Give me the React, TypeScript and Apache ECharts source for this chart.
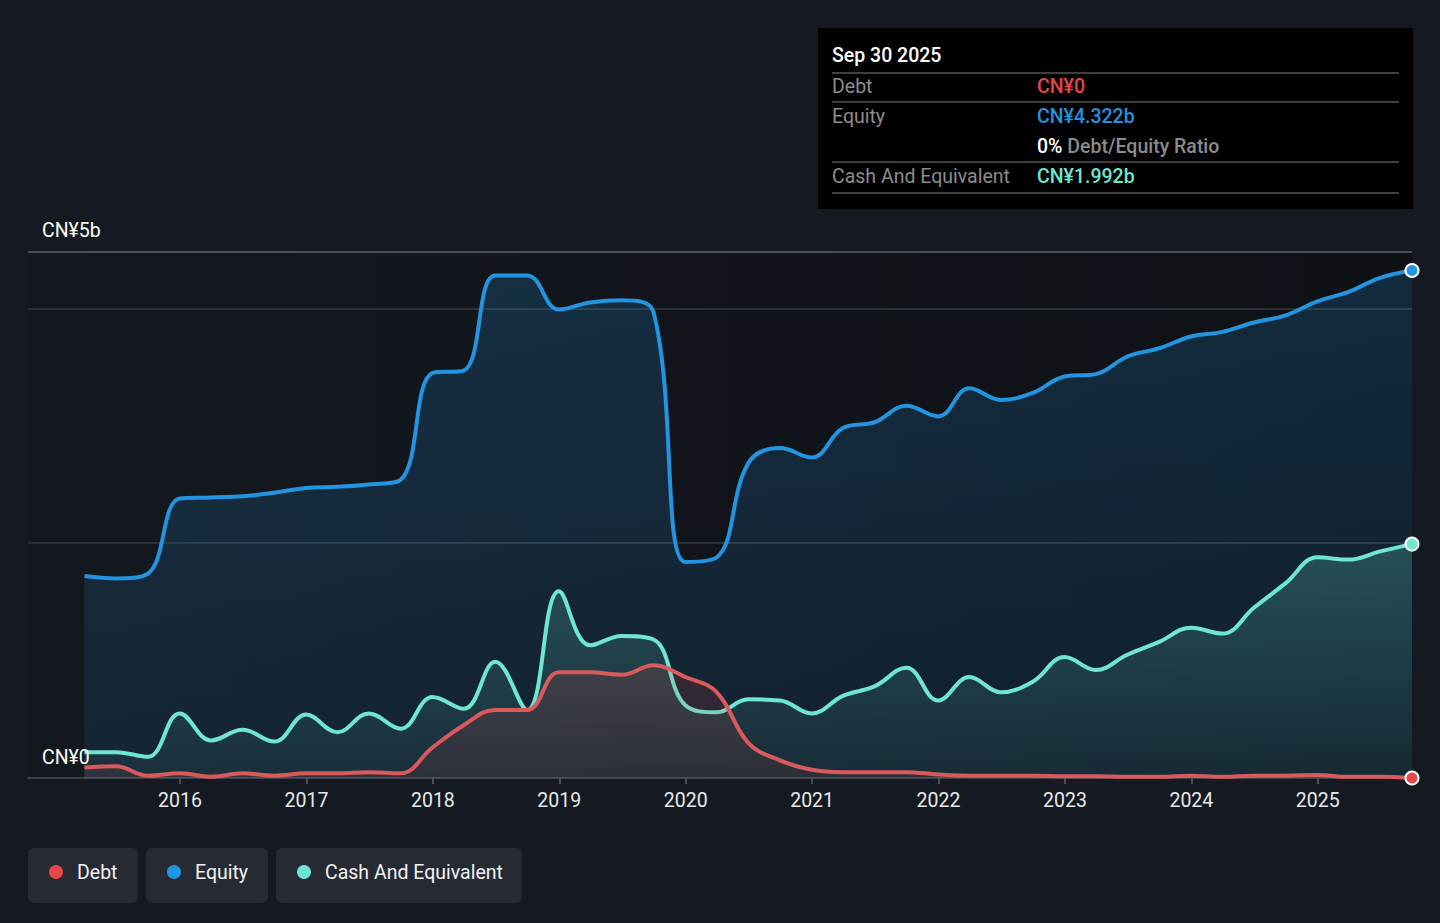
import React, { useEffect, useRef } from "react";
import * as echarts from "echarts";

const quarterDates = [
  "2015-03-31", "2015-06-30", "2015-09-30", "2015-12-31",
  "2016-03-31", "2016-06-30", "2016-09-30", "2016-12-31",
  "2017-03-31", "2017-06-30", "2017-09-30", "2017-12-31",
  "2018-03-31", "2018-06-30", "2018-09-30", "2018-12-31",
  "2019-03-31", "2019-06-30", "2019-09-30", "2019-12-31",
  "2020-03-31", "2020-06-30", "2020-09-30", "2020-12-31",
  "2021-03-31", "2021-06-30", "2021-09-30", "2021-12-31",
  "2022-03-31", "2022-06-30", "2022-09-30", "2022-12-31",
  "2023-03-31", "2023-06-30", "2023-09-30", "2023-12-31",
  "2024-03-31", "2024-06-30", "2024-09-30", "2024-12-31",
  "2025-03-31", "2025-06-30", "2025-09-30",
];

// values in CN¥ billions
const equityValues = [
  1.72, 1.7, 1.74, 2.38, 2.39, 2.4, 2.43, 2.47, 2.48, 2.5, 2.54, 3.45,
  3.47, 4.28, 4.28, 3.99, 4.05, 4.07, 3.97, 1.84, 1.88, 2.68, 2.81, 2.73,
  2.98, 3.03, 3.17, 3.08, 3.32, 3.22, 3.28, 3.42, 3.44, 3.59, 3.66, 3.76,
  3.8, 3.88, 3.94, 4.06, 4.14, 4.26, 4.322,
];
const cashValues = [
  0.22, 0.22, 0.18, 0.55, 0.32, 0.41, 0.31, 0.54, 0.39, 0.55, 0.42, 0.69,
  0.59, 0.99, 0.58, 1.59, 1.13, 1.21, 1.18, 0.62, 0.56, 0.67, 0.66, 0.55,
  0.7, 0.78, 0.94, 0.66, 0.86, 0.73, 0.82, 1.03, 0.92, 1.05, 1.16, 1.28,
  1.23, 1.45, 1.66, 1.88, 1.86, 1.93, 1.992,
];
const debtValues = [
  0.09, 0.1, 0.02, 0.04, 0.01, 0.04, 0.02, 0.04, 0.04, 0.05, 0.04, 0.26,
  0.45, 0.58, 0.58, 0.9, 0.9, 0.88, 0.96, 0.86, 0.73, 0.3, 0.15, 0.07,
  0.05, 0.05, 0.05, 0.03, 0.02, 0.02, 0.02, 0.015, 0.015, 0.01, 0.01, 0.02,
  0.01, 0.02, 0.02, 0.025, 0.01, 0.01, 0,
];
const yearTicks = [2016, 2017, 2018, 2019, 2020, 2021, 2022, 2023, 2024, 2025];
const axisStart = "2014-10-19";

const legendItems = ["Debt", "Equity", "Cash And Equivalent"];
const tooltipTitle = "Sep 30 2025";
const tooltipRows = [
  { label: "Debt", value: "CN¥0" },
  { label: "Equity", value: "CN¥4.322b" },
  { label: "", value: "0%", extra: " Debt/Equity Ratio" },
  { label: "Cash And Equivalent", value: "CN¥1.992b" },
];

const COLORS = { debt: "#e64646", equity: "#2394df", cash: "#6ee6d2" };
const LINE_COLORS = { debt: "#d9595d", equity: "#2394df", cash: "#6ee6d2" };
const FONT = "Roboto, 'Noto Sans', sans-serif";
const FS = 19.5;

function toDecimalYear(d: string): number {
  const [y, m, day] = d.split("-").map(Number);
  const start = Date.UTC(y, 0, 1);
  const end = Date.UTC(y + 1, 0, 1);
  const t = Date.UTC(y, m - 1, day);
  return y + (t - start) / (end - start);
}

export default function App() {
  const ref = useRef<HTMLDivElement>(null);

  useEffect(() => {
    if (!ref.current) return;
    const chart = echarts.init(ref.current, undefined, { renderer: "svg" });
    const xs = quarterDates.map(toDecimalYear);
    const last = xs.length - 1;
    const mk = (vals: number[]) => vals.map((v, i) => [xs[i], v]);

    const seriesDef = (
      name: string,
      vals: number[],
      key: "debt" | "equity" | "cash",
      areaTop: string,
      areaBottom: string,
      z: number
    ) => ({
      type: "line",
      name,
      data: mk(vals),
      smooth: 0.4,
      z,
      showSymbol: true,
      symbol: (_v: any, p: any) => (p.dataIndex === last ? "circle" : "none"),
      symbolSize: 13,
      itemStyle: { color: COLORS[key], borderColor: "#ffffff", borderWidth: 2 },
      lineStyle: { color: LINE_COLORS[key], width: 4 },
      areaStyle: {
        color: new echarts.graphic.LinearGradient(0, 0, 0, 1, [
          { offset: 0, color: areaTop },
          { offset: 1, color: areaBottom },
        ]),
      },
      clip: false,
    });

    const graphics: any[] = [];
    graphics.push({
      type: "text",
      x: 42,
      y: 230,
      style: { text: "CN¥5b", fill: "#ffffff", font: `${FS}px ${FONT}`, textVerticalAlign: "middle" },
    });
    graphics.push({
      type: "text",
      x: 42,
      y: 757,
      z: 100,
      style: { text: "CN¥0", fill: "#ffffff", font: `${FS}px ${FONT}`, textVerticalAlign: "middle" },
    });

    // tooltip box
    const tb = { x: 818, y: 28, w: 595, h: 181 };
    graphics.push({
      type: "rect",
      shape: { x: tb.x, y: tb.y, width: tb.w, height: tb.h },
      style: { fill: "#000000" },
      z: 50,
    });
    graphics.push({
      type: "text",
      x: 832,
      y: 55,
      z: 51,
      style: { text: tooltipTitle, fill: "#ffffff", font: `500 ${FS}px ${FONT}`, textVerticalAlign: "middle" },
    });
    const sepYs = [73, 102, 162, 193];
    sepYs.forEach((sy) =>
      graphics.push({
        type: "line",
        z: 51,
        shape: { x1: 832, y1: sy, x2: 1399, y2: sy },
        style: { stroke: "#3f3f3f", lineWidth: 2 },
      })
    );
    const rowYs = [86, 116, 146, 176];
    const valColors = [COLORS.debt, COLORS.equity, "#ffffff", COLORS.cash];
    tooltipRows.forEach((r, i) => {
      if (r.label)
        graphics.push({
          type: "text",
          x: 832,
          y: rowYs[i],
          z: 51,
          style: { text: r.label, fill: "#8c8c8c", font: `${FS}px ${FONT}`, textVerticalAlign: "middle" },
        });
      graphics.push({
        type: "text",
        x: 1037,
        y: rowYs[i],
        z: 51,
        style: r.extra
          ? {
              text: `{a|${r.value}}{b|${r.extra}}`,
              textVerticalAlign: "middle",
              rich: {
                a: { fill: "#ffffff", font: `500 ${FS}px ${FONT}` },
                b: { fill: "#8c8c8c", font: `500 ${FS}px ${FONT}` },
              },
            }
          : { text: r.value, fill: valColors[i], font: `500 ${FS}px ${FONT}`, textVerticalAlign: "middle" },
      });
    });

    // legend buttons
    const legendBoxes = [
      { x: 28, w: 110, key: "debt" },
      { x: 146, w: 122, key: "equity" },
      { x: 276, w: 246, key: "cash" },
    ];
    legendBoxes.forEach((b, i) => {
      graphics.push({
        type: "rect",
        shape: { x: b.x, y: 848, width: b.w, height: 55, r: 6 },
        style: { fill: "#262a32" },
      });
      graphics.push({
        type: "circle",
        shape: { cx: b.x + 28, cy: 872, r: 7 },
        style: { fill: (COLORS as any)[b.key] },
      });
      graphics.push({
        type: "text",
        x: b.x + 49,
        y: 872,
        style: { text: legendItems[i], fill: "#f2f2f2", font: `${FS}px ${FONT}`, textVerticalAlign: "middle" },
      });
    });

    chart.setOption({
      animation: false,
      backgroundColor: "#151a22",
      textStyle: { fontFamily: FONT },
      grid: {
        left: 28,
        right: 28,
        top: 252,
        bottom: 145,
        show: true,
        borderWidth: 0,
        backgroundColor: new echarts.graphic.LinearGradient(0, 0, 1, 0, [
          { offset: 0, color: "#141920" },
          { offset: 1, color: "#0e1116" },
        ]),
      },
      xAxis: {
        type: "value",
        min: toDecimalYear(axisStart),
        max: toDecimalYear(quarterDates[last]),
        axisLine: { show: true, lineStyle: { color: "#3d424a", width: 2 } },
        axisTick: {
          show: true,
          customValues: yearTicks,
          length: 6,
          lineStyle: { color: "#4a4f57", width: 2 },
        },
        axisLabel: {
          customValues: yearTicks,
          formatter: (v: number) => String(Math.round(v)),
          color: "#e8e8e8",
          fontSize: FS,
          fontFamily: FONT,
          margin: 12,
        },
        splitLine: { show: false },
      },
      yAxis: {
        type: "value",
        min: 0,
        max: 4.48,
        interval: 2,
        axisLabel: { show: false },
        axisLine: { show: false },
        axisTick: { show: false },
        splitLine: {
          show: true,
          lineStyle: { color: ["#3d424a", "#2b3038", "#2b3038", "#4a4f57"], width: 2 },
        },
      },
      series: [
        seriesDef("Equity", equityValues, "equity", "rgba(35,148,223,0.28)", "rgba(35,148,223,0.14)", 2),
        seriesDef("Cash And Equivalent", cashValues, "cash", "rgba(110,230,210,0.32)", "rgba(110,230,210,0.08)", 3),
        seriesDef("Debt", debtValues, "debt", "rgba(230,70,70,0.22)", "rgba(230,70,70,0.14)", 4),
      ],
      graphic: { elements: graphics },
    });

    return () => chart.dispose();
  }, []);

  return (
    <div
      ref={ref}
      style={{ position: "fixed", left: 0, top: 0, width: 1440, height: 923 }}
    />
  );
}
